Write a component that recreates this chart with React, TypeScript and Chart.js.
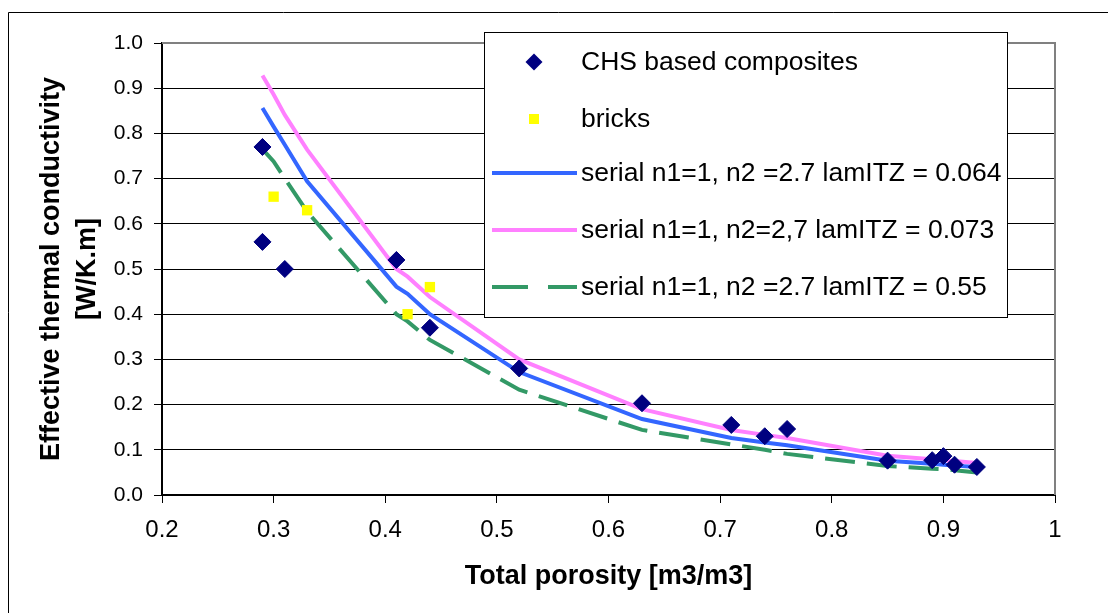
import React, { useEffect, useRef } from 'react';
import { Chart, registerables } from 'chart.js';

Chart.register(...registerables);

// ---- data ----
const chsPorosity = [0.29, 0.29, 0.31, 0.41, 0.44, 0.52, 0.63, 0.71, 0.74, 0.76, 0.85, 0.89, 0.90, 0.91, 0.93];
const chsConductivity = [0.77, 0.56, 0.50, 0.52, 0.37, 0.28, 0.203, 0.155, 0.13, 0.146, 0.076, 0.077, 0.086, 0.067, 0.062];

const bricksPorosity = [0.30, 0.33, 0.42, 0.44];
const bricksConductivity = [0.66, 0.63, 0.40, 0.46];

const modelPorosity = [0.29, 0.30, 0.31, 0.33, 0.41, 0.42, 0.44, 0.52, 0.63, 0.71, 0.74, 0.76, 0.85, 0.89, 0.90, 0.91, 0.93];
const serial064 = [0.856, 0.815, 0.775, 0.694, 0.461, 0.445, 0.40, 0.272, 0.168, 0.126, 0.116, 0.110, 0.076, 0.069, 0.067, 0.065, 0.062];
const serial073 = [0.928, 0.886, 0.841, 0.764, 0.50, 0.483, 0.438, 0.30, 0.19, 0.144, 0.133, 0.126, 0.087, 0.079, 0.077, 0.075, 0.071];
const serial055 = [0.765, 0.738, 0.70, 0.627, 0.40, 0.384, 0.343, 0.233, 0.144, 0.112, 0.100, 0.091, 0.064, 0.058, 0.057, 0.055, 0.050];

const seriesLabels = [
  'CHS based composites',
  'bricks',
  'serial n1=1, n2 =2.7 lamITZ = 0.064',
  'serial n1=1, n2=2,7 lamITZ = 0.073',
  'serial n1=1, n2 =2.7 lamITZ = 0.55',
];

const xTickLabels = ['0.2', '0.3', '0.4', '0.5', '0.6', '0.7', '0.8', '0.9', '1'];
const yTickLabels = ['0.0', '0.1', '0.2', '0.3', '0.4', '0.5', '0.6', '0.7', '0.8', '0.9', '1.0'];

const xTitle = 'Total porosity [m3/m3]';
const yTitle = ['Effective thermal conductivity', '[W/K.m]'];

const FONT = "'Liberation Sans', Arial, Helvetica, sans-serif";

const zip = (xs: number[], ys: number[]) => xs.map((x, i) => ({ x, y: ys[i] }));

const framePlugin = {
  id: 'frame',
  beforeDraw(chart: any) {
    const { ctx, width, height } = chart;
    ctx.save();
    ctx.fillStyle = '#fff';
    ctx.fillRect(0, 0, width, height);
    ctx.strokeStyle = '#000';
    ctx.lineWidth = 1;
    ctx.beginPath();
    ctx.moveTo(8.5, height);
    ctx.lineTo(8.5, 12.5);
    ctx.lineTo(width, 12.5);
    ctx.stroke();
    ctx.restore();
  },
  beforeDatasetsDraw(chart: any) {
    const { ctx, chartArea } = chart;
    ctx.save();
    ctx.strokeStyle = '#808080';
    ctx.lineWidth = 2;
    ctx.beginPath();
    ctx.moveTo(chartArea.left, chartArea.top);
    ctx.lineTo(chartArea.right, chartArea.top);
    ctx.lineTo(chartArea.right, chartArea.bottom);
    ctx.stroke();
    ctx.restore();
  },
};

const legendPlugin = {
  id: 'boxLegend',
  afterDatasetsDraw(chart: any) {
    const { ctx } = chart;
    const left = 484, top = 32, w = 523, h = 285;
    ctx.save();
    ctx.fillStyle = '#fff';
    ctx.fillRect(left, top, w, h);
    ctx.strokeStyle = '#000';
    ctx.lineWidth = 1;
    ctx.strokeRect(left + 0.5, top + 0.5, w, h);
    const rows = [62, 119, 173, 230, 287];
    const mx = 534;
    chart.data.datasets.forEach((ds: any, i: number) => {
      const y = rows[i];
      if (ds.showLine) {
        ctx.save();
        ctx.strokeStyle = ds.borderColor;
        ctx.lineWidth = ds.borderWidth;
        ctx.setLineDash(ds.borderDash && ds.borderDash.length ? [36, 20] : []);
        ctx.beginPath();
        ctx.moveTo(492, y);
        ctx.lineTo(577, y);
        ctx.stroke();
        ctx.restore();
      } else if (ds.pointStyle === 'rectRot') {
        const r = 8.5;
        ctx.fillStyle = ds.backgroundColor;
        ctx.beginPath();
        ctx.moveTo(mx, y - r);
        ctx.lineTo(mx + r, y);
        ctx.lineTo(mx, y + r);
        ctx.lineTo(mx - r, y);
        ctx.closePath();
        ctx.fill();
      } else {
        ctx.fillStyle = ds.backgroundColor;
        ctx.fillRect(mx - 5, y - 5, 10, 10);
      }
      ctx.fillStyle = '#000';
      ctx.font = `26.5px ${FONT}`;
      ctx.textBaseline = 'middle';
      ctx.textAlign = 'left';
      ctx.fillText(ds.label, 581, y + 1);
    });
    ctx.restore();
  },
};

export default function App() {
  const ref = useRef<HTMLCanvasElement>(null);

  useEffect(() => {
    const canvas = ref.current;
    if (!canvas) return;
    const chart = new Chart(canvas, {
      type: 'scatter',
      data: {
        datasets: [
          {
            label: seriesLabels[0],
            data: zip(chsPorosity, chsConductivity),
            pointStyle: 'rectRot',
            pointRadius: 8.5,
            backgroundColor: '#000080',
            borderColor: '#000080',
            borderWidth: 1,
            showLine: false,
          },
          {
            label: seriesLabels[1],
            data: zip(bricksPorosity, bricksConductivity),
            pointStyle: 'rect',
            pointRadius: 7.3,
            backgroundColor: '#FFFF00',
            borderColor: '#FFFF00',
            borderWidth: 0,
            showLine: false,
          },
          {
            label: seriesLabels[2],
            data: zip(modelPorosity, serial064),
            showLine: true,
            pointRadius: 0,
            borderColor: '#3366FF',
            backgroundColor: '#3366FF',
            borderWidth: 4,
            borderDash: [],
            tension: 0,
          },
          {
            label: seriesLabels[3],
            data: zip(modelPorosity, serial073),
            showLine: true,
            pointRadius: 0,
            borderColor: '#FF80FF',
            backgroundColor: '#FF80FF',
            borderWidth: 4,
            borderDash: [],
            tension: 0,
          },
          {
            label: seriesLabels[4],
            data: zip(modelPorosity, serial055),
            showLine: true,
            pointRadius: 0,
            borderColor: '#339966',
            backgroundColor: '#339966',
            borderWidth: 4,
            borderDash: [30, 12],
            tension: 0,
          },
        ] as any,
      },
      options: {
        responsive: false,
        animation: false,
        devicePixelRatio: 1,
        events: [],
        layout: { padding: { left: 0, top: 43, right: 53, bottom: 0 } },
        plugins: {
          legend: { display: false },
          tooltip: { enabled: false },
          title: { display: false },
        },
        scales: {
          x: {
            type: 'linear',
            min: 0.2,
            max: 1,
            afterFit: (s: any) => { s.height = 118; },
            ticks: {
              stepSize: 0.1,
              autoSkip: false,
              maxRotation: 0,
              padding: 13,
              color: '#000',
              font: { family: FONT, size: 24 },
              callback: (_v: any, i: number) => xTickLabels[i],
            },
            grid: {
              drawOnChartArea: false,
              drawTicks: true,
              tickLength: 8,
              tickColor: '#000',
              tickWidth: 1,
            },
            border: { display: true, color: '#000', width: 2 },
            title: {
              display: true,
              text: xTitle,
              color: '#000',
              font: { family: FONT, size: 27, weight: 'bold', lineHeight: 1.2 },
              padding: { top: 0, bottom: 20 },
            },
          },
          y: {
            type: 'linear',
            min: 0,
            max: 1,
            afterFit: (s: any) => { s.width = 162; },
            ticks: {
              stepSize: 0.1,
              autoSkip: false,
              padding: 11,
              color: '#000',
              font: { family: FONT, size: 21 },
              callback: (_v: any, i: number) => yTickLabels[i],
            },
            grid: {
              color: '#000',
              lineWidth: 1,
              drawTicks: true,
              tickLength: 8,
              tickColor: '#000',
              tickWidth: 1,
            },
            border: { display: true, color: '#000', width: 2 },
            title: {
              display: true,
              text: yTitle,
              color: '#000',
              font: { family: FONT, size: 27, weight: 'bold', lineHeight: 36 / 27 },
              padding: { top: 34, bottom: 0 },
            },
          },
        },
      } as any,
      plugins: [framePlugin, legendPlugin],
    });
    return () => chart.destroy();
  }, []);

  return (
    <div style={{ position: 'fixed', left: 0, top: 0, width: 1108, height: 613, background: '#fff' }}>
      <canvas ref={ref} width={1108} height={613} style={{ display: 'block' }} />
    </div>
  );
}
